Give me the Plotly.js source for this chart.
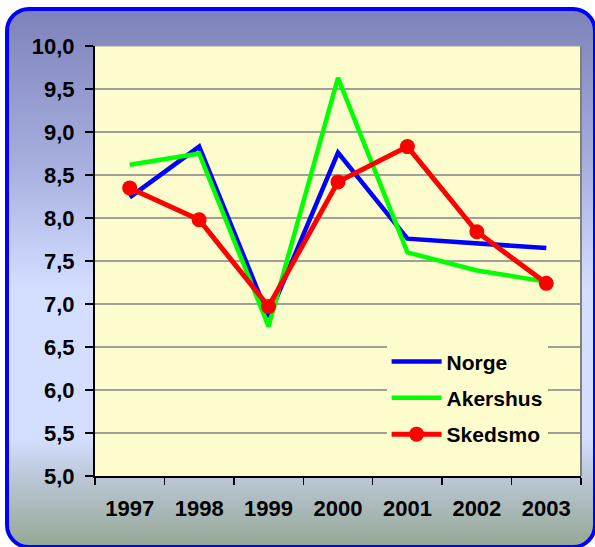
<!DOCTYPE html>
<html>
<head>
<meta charset="utf-8">
<script src="https://cdn.plot.ly/plotly-3.0.1.min.js"></script>
<style>
  html, body { margin: 0; padding: 0; width: 595px; height: 547px; overflow: hidden; background: #ffffff; }
  #frame {
    position: absolute; left: 5px; top: 7px; width: 592px; height: 542px;
    box-sizing: border-box; border: 4px solid #0000FF; border-radius: 24px;
    background: linear-gradient(to bottom, #7E82BA 0%, #A9B1E0 30%, #D4DEFF 52%, #D4DEFF 80%, #BCC8D8 87%, #96A896 100%);
  }
  #chart { position: absolute; left: 0; top: 0; width: 595px; height: 547px; }
</style>
</head>
<body>
<div id="frame"></div>
<div id="chart"></div>
<script>
const years = ['1997', '1998', '1999', '2000', '2001', '2002', '2003'];
const norge = [8.24, 8.83, 6.85, 8.76, 7.76, 7.70, 7.65];
const akershus = [8.62, 8.75, 6.74, 9.63, 7.60, 7.39, 7.26];
const skedsmo = [8.35, 7.98, 6.97, 8.42, 8.83, 7.84, 7.24];
const yTicks = [5, 5.5, 6, 6.5, 7, 7.5, 8, 8.5, 9, 9.5, 10];

const traces = [
  { x: years, y: norge, name: 'Norge', legendgroup: 'a', type: 'scatter', mode: 'lines',
    line: { color: '#0000FF', width: 4.5 } },
  { x: years, y: akershus, name: 'Akershus', legendgroup: 'b', type: 'scatter', mode: 'lines',
    line: { color: '#00FF00', width: 4.5 } },
  { x: years, y: skedsmo, name: 'Skedsmo', legendgroup: 'c', type: 'scatter', mode: 'lines+markers',
    line: { color: '#FF0000', width: 5 }, marker: { color: '#FF0000', size: 15 } }
];

const tickFont = { family: 'Liberation Sans, Arial, sans-serif', size: 22, color: '#000000', weight: 'bold' };

const layout = {
  width: 595, height: 547,
  margin: { l: 95, r: 14, t: 46, b: 71 },
  paper_bgcolor: 'rgba(0,0,0,0)',
  plot_bgcolor: '#FCFCCC',
  separators: ',.',
  showlegend: true,
  font: { family: 'Liberation Sans, Arial, sans-serif' },
  xaxis: {
    type: 'category', tickson: 'boundaries', ticks: 'outside', ticklen: 7, tickcolor: '#000000', tickwidth: 1.5,
    showgrid: false, showline: true, linecolor: '#000000', linewidth: 2,
    tickfont: tickFont, ticklabelstandoff: 12, range: [-0.5, 6.5]
  },
  yaxis: {
    range: [5, 10], tickvals: yTicks, tickformat: '.1f',
    ticks: 'outside', ticklen: 8, tickcolor: '#000000', tickwidth: 1.5,
    showgrid: true, gridcolor: '#A0A098', gridwidth: 1.2,
    zeroline: false, showline: true, linecolor: '#000000', linewidth: 2,
    tickfont: tickFont, ticklabelstandoff: 6
  },
  legend: {
    x: 0.6, y: 0.313, xanchor: 'left', yanchor: 'top',
    bgcolor: '#FCFCCC', borderwidth: 0, traceorder: 'grouped',
    font: { family: 'Liberation Sans, Arial, sans-serif', size: 21, color: '#000000', weight: 'bold' },
    itemwidth: 50, tracegroupgap: 6
  },
  shapes: [
    { type: 'line', xref: 'paper', yref: 'paper', x0: 1, x1: 1, y0: 0, y1: 1,
      line: { color: '#808080', width: 2 }, layer: 'above' },
    { type: 'line', xref: 'paper', yref: 'paper', x0: 0, x1: 1, y0: 1, y1: 1,
      line: { color: '#A0A0A0', width: 1 }, layer: 'above' }
  ]
};

Plotly.newPlot('chart', traces, layout, { displayModeBar: false, staticPlot: true });
</script>
</body>
</html>
